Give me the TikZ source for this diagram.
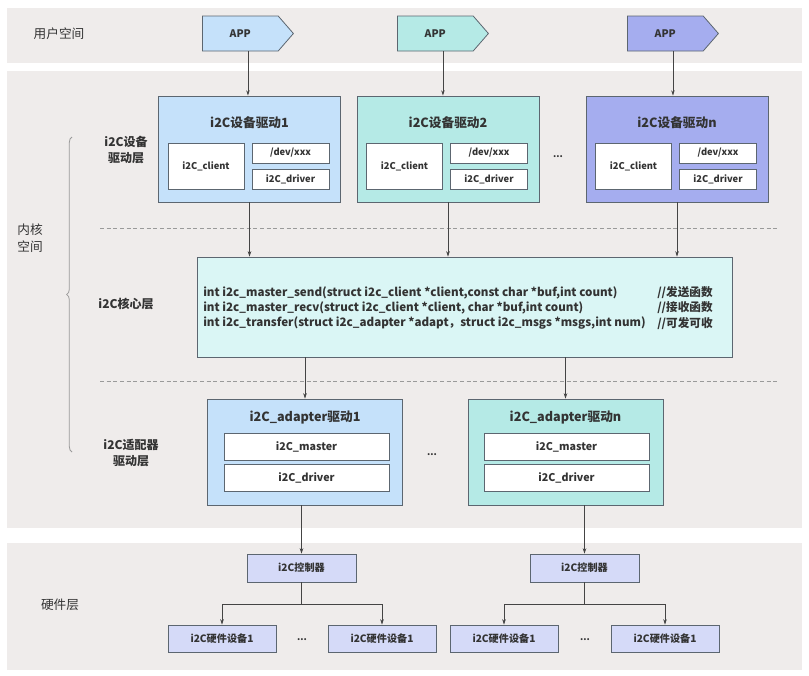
\documentclass[tikz,border=0pt]{standalone}
\usepackage{fontspec}
\setmainfont{Noto Sans CJK SC}
\usetikzlibrary{positioning,arrows.meta,shapes.symbols,decorations.pathreplacing,calc}
\usepackage{xcolor}

\definecolor{bandgray}{HTML}{EFECEB}
\definecolor{appblue}{HTML}{C5E1FA}
\definecolor{appteal}{HTML}{B5EAE6}
\definecolor{appviolet}{HTML}{A5ADEF}
\definecolor{corecyan}{HTML}{DAF6F5}
\definecolor{hwlav}{HTML}{D5DAF8}
\definecolor{edgegray}{HTML}{5C6670}
\definecolor{txtgray}{HTML}{333333}
\definecolor{sepgray}{HTML}{9A9A9A}
\definecolor{arrowgray}{HTML}{444444}

\begin{document}
\begin{tikzpicture}[
  x=0.75pt, y=-0.75pt,
  every node/.style={text=txtgray},
  app/.style={signal, signal to=east, signal pointer angle=98,
              draw=edgegray, line width=0.6pt, inner sep=0pt, anchor=west,
              minimum width=91*0.75pt, minimum height=35*0.75pt,
              font=\fontsize{7.8}{9}\selectfont\bfseries},
  box/.style={draw=edgegray, line width=0.6pt, inner sep=0pt},
  drvbox/.style={box, minimum width=182*0.75pt, minimum height=106*0.75pt},
  adpbox/.style={box, minimum width=195*0.75pt, minimum height=106*0.75pt},
  corebox/.style={box, fill=corecyan, minimum width=535*0.75pt, minimum height=100*0.75pt},
  inbox/.style={box, fill=white, font=\fontsize{7}{8}\selectfont\bfseries},
  adpin/.style={inbox, minimum width=165*0.75pt, minimum height=27*0.75pt,
                font=\fontsize{8}{9}\selectfont\bfseries},
  hwbox/.style={box, fill=hwlav, minimum height=28*0.75pt,
                font=\fontsize{7.6}{9}\selectfont\bfseries},
  title/.style={font=\fontsize{9.5}{11}\selectfont\bfseries},
  code/.style={inner sep=0pt, align=left, anchor=west,
               font=\fontsize{8.7}{11.4}\selectfont\bfseries},
  layer/.style={align=center, font=\fontsize{9}{11.5}\selectfont\bfseries},
  space/.style={align=center, font=\fontsize{9.5}{12.5}\selectfont},
  dots/.style={font=\fontsize{7}{8}\selectfont\bfseries},
  arr/.style={draw=arrowgray, line width=0.5pt, -{Stealth[length=4pt,width=2.6pt]}},
  sep/.style={draw=sepgray, line width=0.5pt, dash pattern=on 3pt off 2pt},
  brace/.style={draw=sepgray, line width=0.6pt,
                decorate, decoration={brace, amplitude=4pt}},
]
\useasboundingbox (0,0) rectangle (809,675);

% ---- Background bands -------------------------------------------------------
\fill[bandgray] (7,8)   rectangle (802,63);   % user space
\fill[bandgray] (7,71)  rectangle (802,528);  % kernel space
\fill[bandgray] (7,543) rectangle (802,670);  % hardware

% ---- Left labels ------------------------------------------------------------
\node[space] (lusr) at (59,34)  {用户空间};
\node[space] (lkrn) at (30,238) {内核\\空间};
\node[space] (lhw)  at (60,605) {硬件层};
\node[layer] (ldrv) at (126,150) {i2C设备\\驱动层};
\node[layer] (lcore) at (126,304) {i2C核心层};
\node[layer] (ladp) at (131,453) {i2C适配器\\驱动层};
\draw[brace] (72,452) -- (72,137);

% Layer separators
\draw[sep] (100,228) -- (778,228);
\draw[sep] (100,381) -- (778,381);

% ---- Core layer -------------------------------------------------------------
\node[corebox] (core) at (464.5,307) {};
\node[code] (corecode) at (203,308) {%
  int i2c\_master\_send(struct i2c\_client *client,const char *buf,int count)\\
  int i2c\_master\_recv(struct i2c\_client *client, char *buf,int count)\\
  int i2c\_transfer(struct i2c\_adapter *adapt，struct i2c\_msgs *msgs,int num)};
\node[code] (corecmt) at (657,308) {//发送函数\\//接收函数\\//可发可收};

% ---- APPs and device drivers ------------------------------------------------
\foreach \n/\ax/\cx/\col/\ttl in {1/202/249.5/appblue/1,
                                 2/397/448/appteal/2,
                                 3/627/677/appviolet/n}{
  \node[app, fill=\col] (app\n) at (\ax,33.5) {APP};
  \node[drvbox, fill=\col] (drv\n) at (\cx,149) {};
  \node[title] (drvt\n) at (\cx,123) {i2C设备驱动\ttl};
  \node[inbox, minimum width=76*0.75pt, minimum height=46*0.75pt]
    (cli\n) at (\cx-43.5,166) {i2C\_client};
  \node[inbox, minimum width=77*0.75pt, minimum height=20*0.75pt]
    (dev\n) at (\cx+41,153) {/dev/xxx};
  \node[inbox, minimum width=77*0.75pt, minimum height=20*0.75pt]
    (ddrv\n) at (\cx+41,179) {i2C\_driver};
  \coordinate (appout\n) at ($(app\n.west)!0.5!(app\n.east) + (0,17.5)$);
  \draw[arr] (appout\n) -- (appout\n |- drv\n.north);
  \draw[arr] (drv\n.south) -- (drv\n.south |- core.north);
}
\node[dots] (ddots) at (558,157) {...};

% ---- Adapter drivers --------------------------------------------------------
\node[adpbox, fill=appblue] (adp1) at (305,452) {};
\node[title] (adpt1) at (305,418) {i2C\_adapter驱动1};
\node[adpin] (mst1) at (306.5,446.5) {i2C\_master};
\node[adpin] (adrv1) at (306.5,477.5) {i2C\_driver};

\node[adpbox, fill=appteal] (adp2) at (565.5,452) {};
\node[title] (adpt2) at (565.5,418) {i2C\_adapter驱动n};
\node[adpin] (mst2) at (566.5,446.5) {i2C\_master};
\node[adpin] (adrv2) at (566.5,477.5) {i2C\_driver};

\node[dots] (adots) at (432,455) {...};

\draw[arr] (core.south -| adp1.north) -- (adp1.north);
\draw[arr] (core.south -| adp2.north) -- (adp2.north);

% ---- Hardware ---------------------------------------------------------------
\node[hwbox, minimum width=109*0.75pt] (ctl1) at (301.5,568) {i2C控制器};
\node[hwbox, minimum width=109*0.75pt] (ctl2) at (584.5,568) {i2C控制器};

\node[hwbox, minimum width=108*0.75pt, minimum height=27*0.75pt] (hw1) at (222,638.5) {i2C硬件设备1};
\node[hwbox, minimum width=108*0.75pt, minimum height=27*0.75pt] (hw2) at (382,638.5) {i2C硬件设备1};
\node[hwbox, minimum width=108*0.75pt, minimum height=27*0.75pt] (hw3) at (504,638.5) {i2C硬件设备1};
\node[hwbox, minimum width=108*0.75pt, minimum height=27*0.75pt] (hw4) at (665,638.5) {i2C硬件设备1};
\node[dots] (hdots1) at (302,640) {...};
\node[dots] (hdots2) at (585,640) {...};

\draw[arr] (adp1.south -| ctl1.north) -- (ctl1.north);
\draw[arr] (adp2.south -| ctl2.north) -- (ctl2.north);
\draw[arr] (ctl1.south) -- ++(0,22) -| (hw1.north);
\draw[arr] (ctl1.south) -- ++(0,22) -| (hw2.north);
\draw[arr] (ctl2.south) -- ++(0,22) -| (hw3.north);
\draw[arr] (ctl2.south) -- ++(0,22) -| (hw4.north);

\end{tikzpicture}
\end{document}
